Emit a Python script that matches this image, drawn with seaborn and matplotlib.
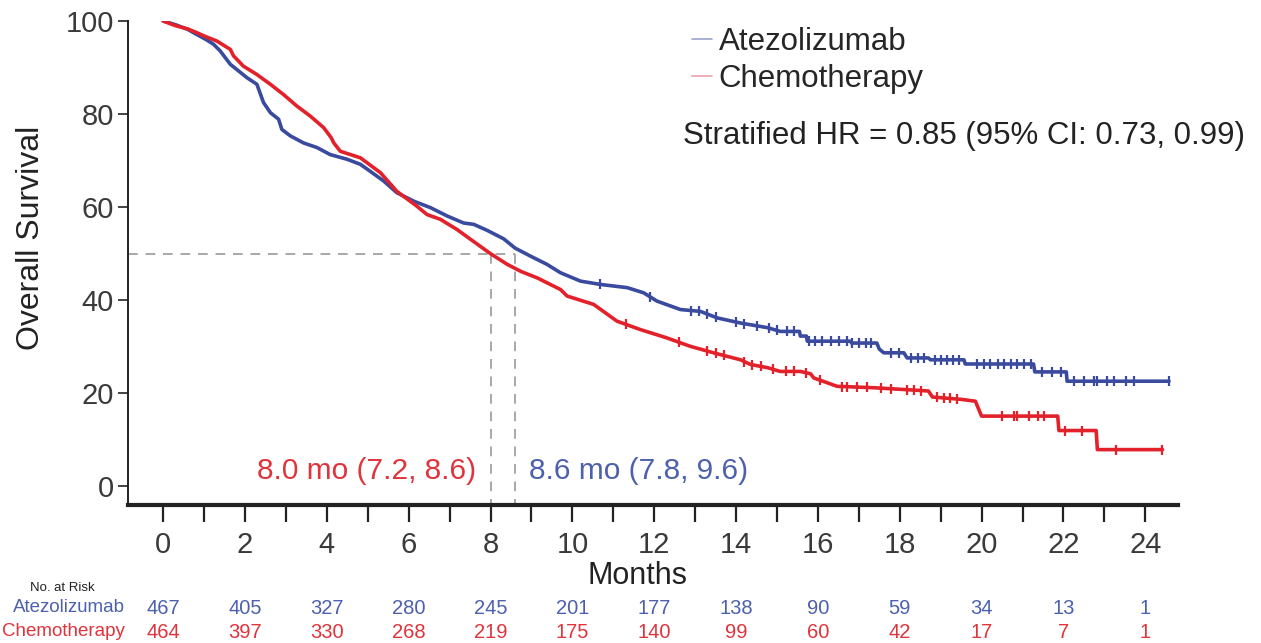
import numpy as np
import pandas as pd
import matplotlib
matplotlib.use("Agg")
import matplotlib.pyplot as plt
from matplotlib.lines import Line2D
import seaborn as sns

# Kaplan-Meier curve vertices (months, % surviving); later plateaus carry explicit step corners
atezo_time = [0, 0.3, 0.6, 0.82, 1.05, 1.23, 1.39, 1.64, 1.88, 2.05, 2.29, 2.45, 2.62,
              2.82, 2.9, 3.11, 3.43, 3.76, 4.08, 4.49, 4.82, 5.06, 5.39, 5.71, 6.12,
              6.53, 6.94, 7.34, 7.59, 7.92, 8.32, 8.6, 8.97, 9.38, 9.71, 10.2, 10.68,
              11.34, 11.74, 12.07, 12.64, 13.13, 13.54, 14.11, 14.77, 15.08,
              15.55, 15.57, 15.72, 15.74, 16.8, 16.82, 17.44, 17.5, 17.61, 18.1,
              18.18, 18.7, 18.75, 19.57, 19.6, 21.27, 21.3, 22.07, 22.09, 24.58]
atezo_surv = [100, 99.2, 98.2, 97.1, 96.0, 95.0, 93.6, 90.7, 89.0, 87.8, 86.4, 82.5, 80.3,
              78.9, 76.7, 75.3, 73.8, 72.8, 71.3, 70.3, 69.2, 67.7, 65.6, 63.1, 61.3,
              59.9, 58.1, 56.6, 56.3, 55.0, 53.2, 51.2, 49.5, 47.7, 45.9, 44.1, 43.4,
              42.7, 41.6, 39.8, 38.0, 37.6, 36.2, 35.1, 34.1, 33.3,
              33.3, 32.3, 32.3, 31.2, 31.2, 30.8, 30.8, 29.5, 28.7, 28.7,
              27.6, 27.6, 27.2, 27.2, 26.3, 26.3, 24.6, 24.6, 22.6, 22.6]

chemo_time = [0, 0.3, 0.6, 0.82, 1.05, 1.31, 1.64, 1.72, 1.96, 2.29, 2.62, 2.94, 3.27,
              3.59, 3.92, 4.1, 4.17, 4.33, 4.82, 5.31, 5.71, 6.2, 6.45, 6.77, 7.18,
              7.51, 8.0, 8.16, 8.41, 8.74, 9.14, 9.71, 9.87, 10.52, 11.09, 11.66,
              12.31, 12.88, 13.45, 14.11, 14.35, 14.77, 15.08, 15.57, 15.82, 15.9,
              16.47, 17.37, 18.7, 18.8, 19.5, 19.85, 19.9, 20.0, 21.86, 21.89,
              22.8, 22.83, 24.42]
chemo_surv = [100, 99.0, 98.3, 97.5, 96.6, 95.7, 93.9, 92.5, 90.3, 88.5, 86.4, 84.2, 81.7,
              79.6, 77.1, 75.0, 73.8, 72.0, 70.6, 67.4, 63.4, 60.2, 58.4, 57.4, 55.2,
              53.1, 50.0, 49.1, 47.7, 46.2, 44.8, 42.3, 40.9, 39.1, 35.5, 33.7,
              31.9, 30.1, 28.7, 27.2, 26.2, 25.5, 24.7, 24.7, 24.2, 23.3,
              21.5, 21.2, 20.5, 19.2, 18.7, 18.3, 17.2, 15.1, 15.1, 12.0,
              12.0, 7.9, 7.9]

# Censoring times (months)
atezo_cens = [10.68, 11.9, 12.9, 13.1, 13.3, 13.5, 14.0, 14.2, 14.5, 14.8, 15.0,
              15.24, 15.41, 15.78, 15.94, 16.1, 16.31, 16.51, 16.72, 16.84, 17.0,
              17.17, 17.29, 17.78, 17.98, 18.28, 18.45, 18.6, 18.85, 19.0, 19.15,
              19.3, 19.45, 19.89, 20.05, 20.2, 20.4, 20.54, 20.71, 20.87, 21.03,
              21.2, 21.48, 21.73, 21.93, 22.26, 22.5, 22.75, 22.83, 23.07, 23.24,
              23.52, 23.73, 24.58]
chemo_cens = [11.3, 12.6, 13.3, 13.5, 13.7, 14.2, 14.4, 14.6, 14.9, 15.21, 15.42,
              15.7, 16.06, 16.6, 16.72, 16.96, 17.2, 17.53, 17.78, 18.18,
              18.35, 18.51, 18.92, 19.08, 19.24, 19.4, 20.5, 20.78, 20.87,
              21.15, 21.39, 21.52, 22.05, 22.46, 23.28, 24.4]

median_atezo, median_chemo = 8.6, 8.0

risk_months = list(range(0, 25, 2))
risk_atezo = [467, 405, 327, 280, 245, 201, 177, 138, 90, 59, 34, 13, 1]
risk_chemo = [464, 397, 330, 268, 219, 175, 140, 99, 60, 42, 17, 7, 1]

arms = ["Atezolizumab", "Chemotherapy"]
blue = "#3a4a9e"
red = "#e3212b"
blue_txt = "#4d60ad"
red_txt = "#e0333b"

sns.set_theme(style="ticks")
plt.rcParams["font.family"] = ["Liberation Sans", "DejaVu Sans"]

fig = plt.figure(figsize=(12.61, 6.43), dpi=100)
W, H = 1261, 643
ax = fig.add_axes([128 / W, 1 - 505 / H, (1178 - 128) / W, (505 - 21) / H])

curves = pd.concat([
    pd.DataFrame({"month": atezo_time, "surv": atezo_surv, "arm": arms[0]}),
    pd.DataFrame({"month": chemo_time, "surv": chemo_surv, "arm": arms[1]}),
])
sns.lineplot(data=curves, x="month", y="surv", hue="arm", palette=[blue, red],
             estimator=None, sort=False, linewidth=2.6, legend=False, ax=ax,
             zorder=3)

for times, surv, cens, col in [(atezo_time, atezo_surv, atezo_cens, blue),
                               (chemo_time, chemo_surv, chemo_cens, red)]:
    ax.plot(cens, np.interp(cens, times, surv), ls="none", marker="|",
            ms=7, mew=1.6, color=col, zorder=4)

# Median reference lines
dash = dict(color="#a8a8a8", lw=1.4, ls=(0, (5, 4)), zorder=2)
ax.plot([-0.86, median_atezo], [50, 50], **dash)
ax.plot([median_chemo, median_chemo], [50, -4], **dash)
ax.plot([median_atezo, median_atezo], [50, -4], **dash)

ax.text(7.65, 3.3, "8.0 mo (7.2, 8.6)", color=red_txt, fontsize=21.5,
        ha="right", va="center")
ax.text(8.95, 3.3, "8.6 mo (7.8, 9.6)", color=blue_txt, fontsize=21.5,
        ha="left", va="center")

ax.set_xlim(-0.86, 24.8)
ax.set_ylim(-4, 100)
ax.set_xticks(range(0, 25, 2))
ax.set_xticks(range(0, 25, 1), minor=True)
ax.set_yticks(range(0, 101, 20))
ax.tick_params(axis="x", which="both", direction="out", length=12, width=1.6,
               color="#222222", labelsize=21, labelcolor="#3a3a3a", pad=7)
ax.tick_params(axis="y", direction="out", length=7, width=1.2, color="#222222",
               labelsize=21, labelcolor="#3a3a3a", pad=3)
ax.set_xlabel("")
ax.set_ylabel("")
sns.despine(ax=ax)
ax.spines["bottom"].set_linewidth(3)
ax.spines["bottom"].set_color("#222222")
ax.spines["left"].set_linewidth(1.4)
ax.spines["left"].set_color("#222222")

fig.text(31 / W, 1 - 238 / H, "Overall Survival", rotation=90, fontsize=23,
         ha="center", va="center", color="#222222")
fig.text(637 / W, 1 - 576 / H, "Months", fontsize=22, ha="center", va="center",
         color="#222222")

# Legend and hazard ratio
handles = [Line2D([], [], color="#9aa3cc", lw=1.2),
           Line2D([], [], color="#eba0a8", lw=1.2)]
fig.legend(handles, arms, loc="upper left", bbox_to_anchor=(692 / W, 1 - 27 / H),
           frameon=False, fontsize=22.5, handlelength=0.65, handletextpad=0.2,
           labelspacing=0.22, borderpad=0, borderaxespad=0)
fig.text(683 / W, 1 - 136 / H, "Stratified HR = 0.85 (95% CI: 0.73, 0.99)",
         fontsize=22.5, ha="left", va="center", color="#222222")

# Number at risk table
xtr = ax.get_xaxis_transform()
fig.text(95 / W, 1 - 588 / H, "No. at Risk", fontsize=9.5, ha="right",
         va="center", color="#222222")
for label, counts, col, ypx in [(arms[0], risk_atezo, blue_txt, 608),
                                (arms[1], risk_chemo, red_txt, 632)]:
    fig.text(125 / W, 1 - ypx / H, label, fontsize=13.5, ha="right",
             va="center", color=col)
    yax = (505 - ypx) / 484
    for m, n in zip(risk_months, counts):
        ax.text(m, yax, str(n), transform=xtr, fontsize=14.5, ha="center",
                va="center", color=col, clip_on=False)

fig.savefig("out.png", dpi=100)
